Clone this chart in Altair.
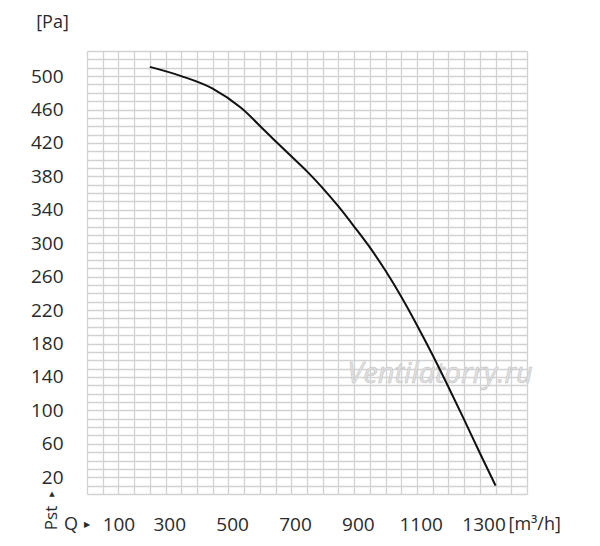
import altair as alt
import pandas as pd

# Curve: airflow Q [m3/h] vs static pressure Pst [Pa]
q_values = [200, 300, 400, 490, 570, 650, 700, 750, 800, 850, 900, 950,
            1000, 1050, 1100, 1150, 1200, 1250, 1300]
p_values = [511, 500, 485, 462, 433, 404, 386, 366, 344, 320, 295, 267,
            236, 202, 166, 128, 89, 49, 10]

x_labels = [100, 300, 500, 700, 900, 1100, 1300]
y_labels = [20, 60, 100, 140, 180, 220, 260, 300, 340, 380, 420, 460, 500]
x_grid = list(range(0, 1401, 50))
y_grid = list(range(0, 531, 10))

df = pd.DataFrame({"Q": q_values, "P": p_values})

FONT = "Open Sans"
TXT = "#2a2a2a"
W, H = 440, 443

x_lab_test = " || ".join(f"datum.value == {v}" for v in x_labels)
y_lab_test = " || ".join(f"datum.value == {v}" for v in y_labels)

x_axis = alt.Axis(
    values=x_grid, grid=True, ticks=False, domain=False, format="d",
    labelExpr=f"({x_lab_test}) ? datum.label : ''",
    labelOverlap=False, labelFlush=False,
    labelFont=FONT, labelFontSize=19, labelColor=TXT,
    labelBaseline="middle", labelPadding=30,
    labelOffset={"condition": {"test": "datum.value == 100", "value": 0}, "value": -12},
    title="[m³/h]", titleFont=FONT, titleFontSize=18, titleFontWeight="normal",
    titleColor=TXT, titleAlign="left", titleBaseline="middle",
    titleX=421, titleY=30, titleAnchor="start",
)
y_axis = alt.Axis(
    values=y_grid, grid=True, ticks=False, domain=False, format="d",
    labelExpr=f"({y_lab_test}) ? datum.label : ''",
    labelOverlap=False, labelFlush=False,
    labelFont=FONT, labelFontSize=19, labelColor=TXT,
    labelPadding=24, labelAlign="right", labelBaseline="middle",
    title="[Pa]", titleFont=FONT, titleFontSize=18, titleFontWeight="normal",
    titleColor=TXT, titleAngle=0, titleAlign="center", titleBaseline="middle",
    titleX=-35, titleY=-29,
)

line = alt.Chart(df).mark_line(
    interpolate="monotone", color="#111111", strokeWidth=2
).encode(
    x=alt.X("Q:Q", scale=alt.Scale(domain=[0, 1400], nice=False, zero=False), axis=x_axis),
    y=alt.Y("P:Q", scale=alt.Scale(domain=[0, 530], nice=False, zero=False), axis=y_axis),
)

one = alt.Data(values=[{"k": 1}])

q_text = alt.Chart(one).mark_text(
    font=FONT, fontSize=18, color=TXT, align="center", baseline="middle"
).encode(x=alt.value(-16), y=alt.value(H + 31), text=alt.value("Q"))

q_arrow = alt.Chart(one).mark_text(
    font="DejaVu Sans", fontSize=8, color=TXT, align="center", baseline="middle"
).encode(x=alt.value(0), y=alt.value(H + 31), text=alt.value("▶"))

pst_text = alt.Chart(one).mark_text(
    font=FONT, fontSize=17, color=TXT, align="center", baseline="middle", angle=270
).encode(x=alt.value(-35), y=alt.value(H + 24), text=alt.value("Pst"))

pst_arrow = alt.Chart(one).mark_text(
    font="DejaVu Sans", fontSize=7, color=TXT, align="center", baseline="middle"
).encode(x=alt.value(-35), y=alt.value(H), text=alt.value("▲"))

watermark = alt.Chart(one).mark_text(
    font=FONT, fontSize=29, fontStyle="italic", color="#e0e0e0",
    stroke="#c2c2c2", strokeWidth=0.5, align="center", baseline="middle"
).encode(x=alt.value(353), y=alt.value(323), text=alt.value("Ventilatorry.ru"))

chart = alt.layer(watermark, line, q_text, q_arrow, pst_text, pst_arrow).properties(
    width=W, height=H,
    autosize=alt.AutoSizeParams(type="none"),
    padding={"left": 79, "top": 43, "right": 60, "bottom": 45},
    background="white",
).configure_view(strokeWidth=0).configure_axis(
    gridColor="#d2d2d2", gridWidth=1.3
)

chart.save("out.html", embed_options={"renderer": "svg", "actions": False})
